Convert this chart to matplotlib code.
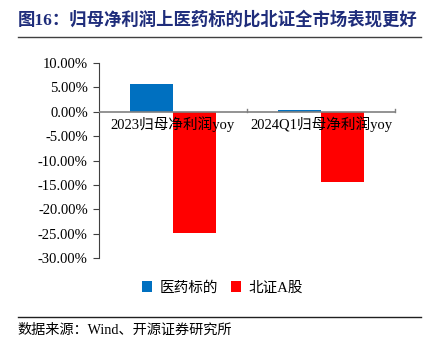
import matplotlib.pyplot as plt
import numpy as np
from matplotlib.lines import Line2D

plt.rcParams['font.family'] = ['Liberation Serif', 'Noto Sans CJK SC']

# data
categories = ['2023归母净利润yoy', '2024Q1归母净利润yoy']
series_names = ['医药标的', '北证A股']
pharma = [5.6, 0.3]
bse = [-24.8, -14.3]
y_ticks = [10, 5, 0, -5, -10, -15, -20, -25, -30]

fig = plt.figure(figsize=(4.36, 3.46), dpi=100)
ax = fig.add_axes([0.227, 0.254, 0.679, 0.564])

x = np.arange(len(categories))
w = 0.29
ax.bar(x - w / 2, pharma, w, color='#0070C0', label=series_names[0], zorder=2)
ax.bar(x + w / 2, bse, w, color='#FF0000', label=series_names[1], zorder=2)

ax.set_xlim(-0.5, 1.5)
ax.set_ylim(-30, 10)
ax.set_yticks(y_ticks)
ax.set_yticklabels([f'{v:.2f}%' for v in y_ticks], fontsize=10.5)
ax.tick_params(axis='y', length=4, color='#404040', pad=4)

# x axis drawn at zero
ax.set_xticks([])
ax.axhline(0, color='#808080', lw=1.2, zorder=3)
for b in [0.5, 1.5]:
    ax.plot([b, b], [0, 0.6], color='#808080', lw=1, zorder=3, clip_on=False)
for xi, lab in zip(x, categories):
    ax.text(xi, -0.9, lab, ha='center', va='top', fontsize=10.5, zorder=4)

for s in ['top', 'right', 'bottom']:
    ax.spines[s].set_visible(False)
ax.spines['left'].set_color('#404040')

leg = fig.legend(loc='center', bbox_to_anchor=(0.51, 0.168), ncol=2, frameon=False,
                 fontsize=10.5, handlelength=0.7, handleheight=0.7, handletextpad=0.5,
                 columnspacing=0.9)

# title and source
fig.text(0.041, 0.942, '图16：归母净利润上医药标的比北证全市场表现更好', fontsize=12.5,
         fontweight='bold', color='#1F2D7B', va='center', ha='left')
fig.add_artist(Line2D([0.041, 0.965], [0.893, 0.893], color='#404040', lw=1))
fig.add_artist(Line2D([0.041, 0.965], [0.084, 0.084], color='#202020', lw=1))
fig.text(0.041, 0.046, '数据来源：Wind、开源证券研究所', fontsize=10.2, va='center', ha='left')

fig.savefig('out.png', dpi=100)
